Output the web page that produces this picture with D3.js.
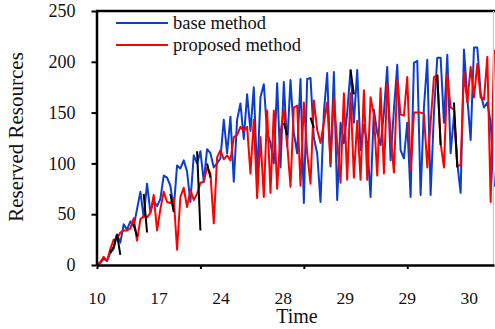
<!DOCTYPE html>
<html>
<head>
<meta charset="utf-8">
<script src="https://cdn.jsdelivr.net/npm/d3@7"></script>
<style>
  body { margin: 0; background: #fff; }
  svg { display: block; font-family: "Liberation Serif", "Times New Roman", serif; }
</style>
</head>
<body>
<figure id="chart" style="margin:0"></figure>
<script>
// values, one per time step
const baseMethod = [
  0, 2, 6, 4, 12, 16, 30, 22, 40, 35,
  43, 38, 55, 72, 47, 80, 52, 63, 58, 65,
  88, 86, 78, 55, 98, 95, 103, 92, 62, 108,
  100, 112, 82, 114, 110, 96, 100, 105, 143, 110,
  146, 82, 143, 159, 124, 168, 132, 175, 87, 165,
  178, 130, 120, 100, 179, 96, 180, 117, 182, 130,
  110, 183, 61, 183, 184, 125, 110, 62, 150, 189,
  97, 190, 64, 140, 120, 150, 192, 140, 192, 113,
  138, 120, 67, 153, 130, 118, 150, 195, 103, 153,
  197, 113, 105, 140, 67, 199, 201, 69, 155, 202,
  69, 150, 204, 204, 140, 207, 110, 147, 100, 71,
  212, 165, 123, 214, 214, 169, 155, 160, 140, 77
];
const proposedMethod = [
  0, 3, 8, 4, 16, 25, 26, 32, 34, 34,
  36, 46, 24, 45, 48, 47, 51, 69, 34, 55,
  72, 62, 61, 66, 15, 67, 76, 57, 74, 64,
  70, 81, 82, 96, 90, 41, 106, 113, 104, 108,
  103, 126, 128, 136, 132, 136, 90, 143, 66, 126,
  67, 152, 71, 152, 75, 130, 153, 120, 77, 155,
  157, 78, 160, 110, 80, 162, 133, 120, 140, 160,
  100, 165, 120, 81, 169, 84, 169, 86, 142, 84,
  172, 84, 165, 148, 88, 174, 90, 179, 130, 91,
  182, 148, 147, 185, 93, 150, 150, 150, 149, 96,
  140, 185, 187, 120, 96, 187, 155, 153, 98, 98,
  190, 160, 195, 165, 198, 165, 163, 205, 62, 212
];
// short black segments visible in the reference (null = not drawn)
const blackTrace = [
  null, null, null, null, 12, 18, 30, 10, null, null,
  null, 40, 28, null, 70, 32, null, null, null, null,
  null, null, 70, 52, null, null, null, null, null, null,
  112, 34, null, 100, 86, null, null, null, null, null,
  null, null, null, null, null, null, null, null, null, null,
  null, null, null, null, null, null, 140, 128, null, null,
  null, null, null, null, 145, 135, null, null, null, null,
  null, null, null, null, null, null, 192, 168, null, null,
  null, null, null, null, null, null, null, null, null, null,
  null, null, null, null, null, null, null, null, null, null,
  null, null, 187, 118, null, null, null, 160, 96, null,
  null, null, null, null, null, null, null, null, null, null
];
const seriesNames = ["base method", "proposed method"];
const yTicks = [0, 50, 100, 150, 200, 250];
const xTickSteps = [0, 31, 62, 93];
const xLabels = ["10", "17", "24", "28", "29", "29", "30"];
const xLabelStep = 18.6;

const width = 495, height = 329;
const margin = {top: 11, right: 1, bottom: 64, left: 97};
const colors = {base: "#0b3dd0", proposed: "#ff0000"};

const svg = d3.select("figure#chart")
  .append("svg")
  .attr("width", width)
  .attr("height", height);

const x = d3.scaleLinear()
  .domain([0, baseMethod.length - 1])
  .range([margin.left, width - margin.right]);

const y = d3.scaleLinear()
  .domain([0, 250])
  .range([height - margin.bottom, margin.top]);

// series lines
const line = d3.line()
  .defined(d => d != null)
  .x((d, i) => x(i))
  .y(d => y(d));

svg.append("path")
  .datum(baseMethod)
  .attr("fill", "none")
  .attr("stroke", colors.base)
  .attr("stroke-width", 2)
  .attr("stroke-linejoin", "round")
  .attr("d", line);

svg.append("path")
  .datum(proposedMethod)
  .attr("fill", "none")
  .attr("stroke", colors.proposed)
  .attr("stroke-width", 2)
  .attr("stroke-linejoin", "round")
  .attr("d", line);

svg.append("path")
  .datum(blackTrace)
  .attr("fill", "none")
  .attr("stroke", "#000")
  .attr("stroke-width", 2)
  .attr("d", line);

// top frame and right edge
svg.append("line")
  .attr("x1", margin.left - 1).attr("x2", width)
  .attr("y1", margin.top).attr("y2", margin.top)
  .attr("stroke", "#000").attr("stroke-width", 2.5);
svg.append("line")
  .attr("x1", width - 1.5).attr("x2", width - 1.5)
  .attr("y1", margin.top).attr("y2", height - margin.bottom)
  .attr("stroke", "#c8c8c8").attr("stroke-width", 1);

// y axis
const yAxis = svg.append("g")
  .attr("transform", "translate(" + (margin.left - 0.5) + ",0)")
  .call(d3.axisLeft(y).tickValues(yTicks).tickSize(5).tickSizeOuter(0).tickPadding(16));
yAxis.select(".domain").attr("stroke-width", 2.5);
yAxis.selectAll(".tick line").attr("stroke-width", 2);
yAxis.selectAll("text")
  .style("font-size", "18px")
  .attr("fill", "#111")
  .attr("font-family", "Liberation Serif, serif");

// x axis (ticks only, labels placed on their own spacing)
const xAxis = svg.append("g")
  .attr("transform", "translate(0," + (height - margin.bottom) + ")")
  .call(d3.axisBottom(x).tickValues(xTickSteps).tickSize(4).tickSizeOuter(0).tickFormat(""));
xAxis.select(".domain").attr("stroke-width", 2.5);
xAxis.selectAll(".tick line").attr("stroke-width", 2);

svg.append("g")
  .selectAll("text")
  .data(xLabels)
  .enter()
  .append("text")
  .attr("x", (d, i) => x(i * xLabelStep))
  .attr("y", 304)
  .attr("text-anchor", "middle")
  .style("font-size", "17.5px")
  .attr("fill", "#111")
  .text(d => d);

// axis titles
svg.append("text")
  .attr("x", 297)
  .attr("y", 323)
  .attr("text-anchor", "middle")
  .style("font-size", "20px")
  .attr("fill", "#111")
  .text("Time");

svg.append("text")
  .attr("transform", "translate(23,137) rotate(-90)")
  .attr("text-anchor", "middle")
  .style("font-size", "21px")
  .attr("fill", "#111")
  .text("Reserved Resources");

// legend
const legend = svg.append("g");
[colors.base, colors.proposed].forEach((c, i) => {
  legend.append("line")
    .attr("x1", 116).attr("x2", 168)
    .attr("y1", 23 + i * 22).attr("y2", 23 + i * 22)
    .attr("stroke", c).attr("stroke-width", 2);
  legend.append("text")
    .attr("x", 173)
    .attr("y", 29 + i * 22)
    .style("font-size", "18.5px")
    .attr("fill", "#111")
    .text(seriesNames[i]);
});
</script>
</body>
</html>
